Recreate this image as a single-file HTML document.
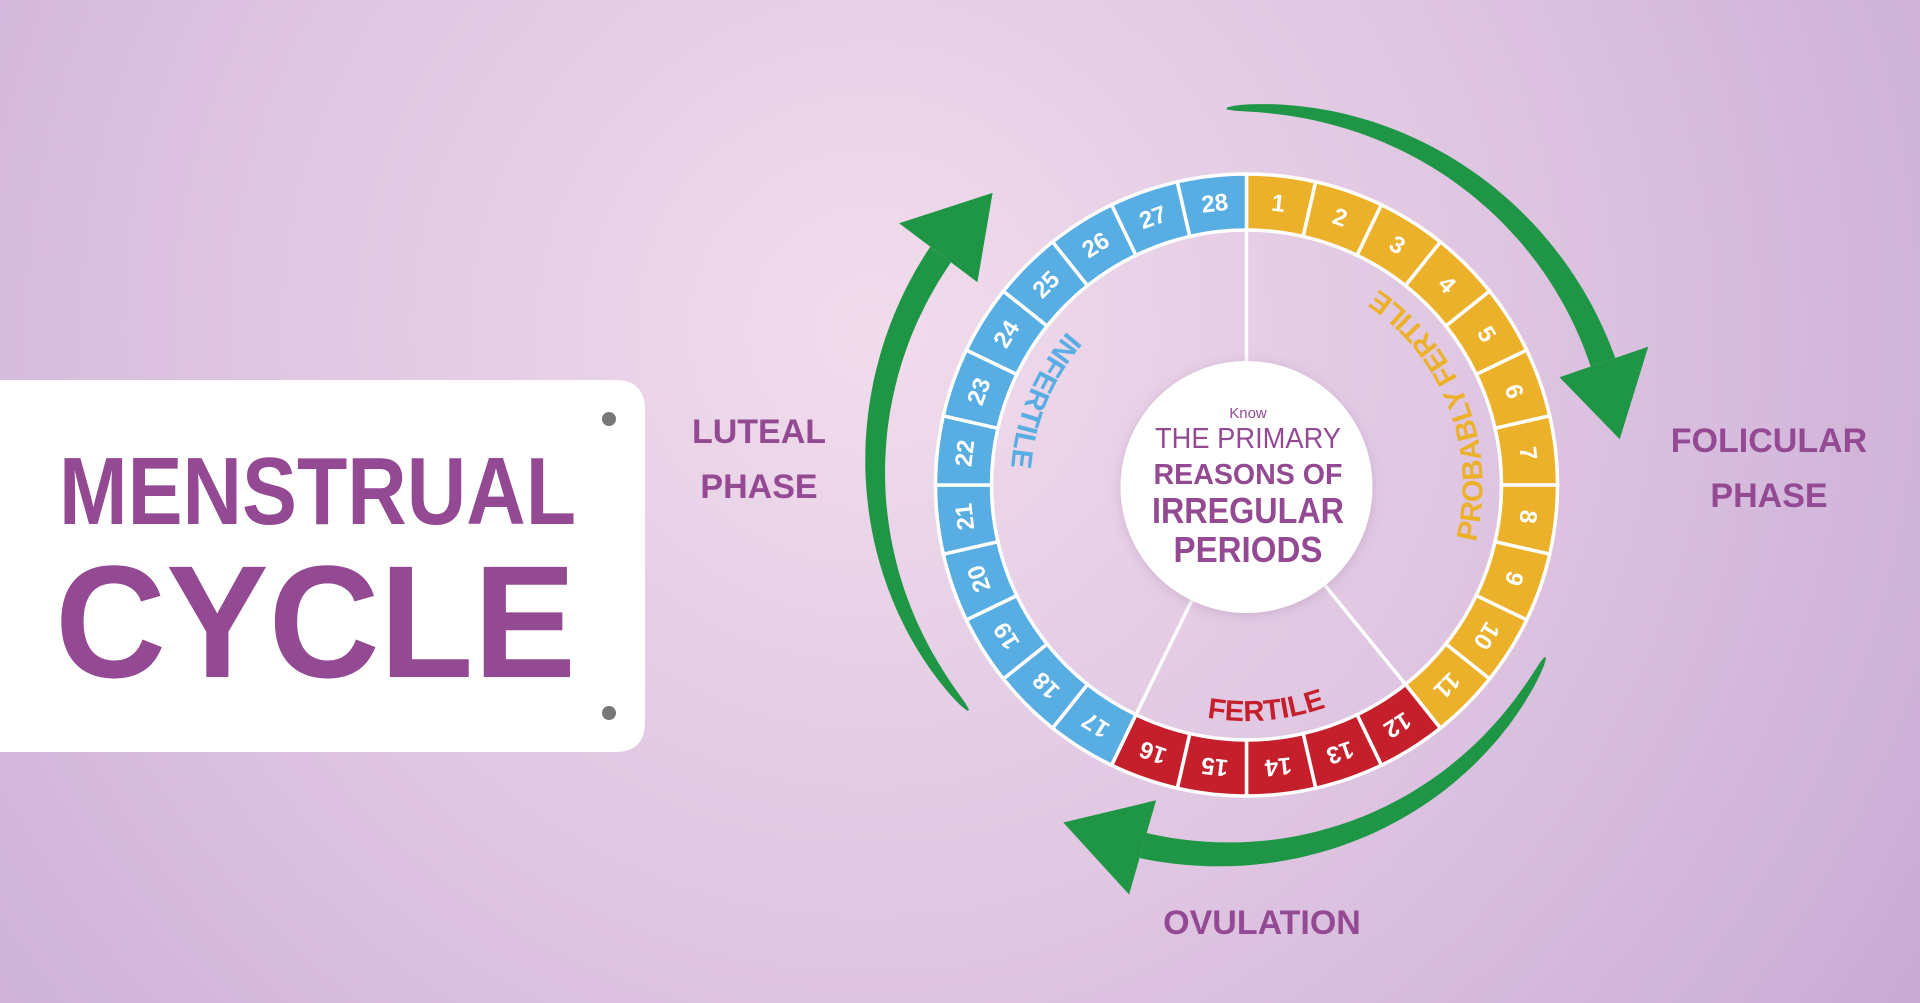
<!DOCTYPE html>
<html><head><meta charset="utf-8"><style>
html,body{margin:0;padding:0;width:1920px;height:1003px;overflow:hidden}
svg{display:block}
text{font-family:"Liberation Sans",sans-serif}
</style></head><body>
<svg id="s" width="1920" height="1003" viewBox="0 0 1920 1003" xmlns="http://www.w3.org/2000/svg">
<defs>
<radialGradient id="bg" cx="870" cy="330" r="1300" gradientUnits="userSpaceOnUse">
<stop offset="0" stop-color="#f1dcec"/><stop offset="0.55" stop-color="#dcc2e0"/><stop offset="1" stop-color="#c6a9d4"/>
</radialGradient>
<filter id="sh" x="-30%" y="-30%" width="160%" height="160%"><feDropShadow dx="0" dy="2" stdDeviation="6" flood-color="#8a5a90" flood-opacity="0.25"/></filter>
</defs>
<rect width="1920" height="1003" fill="url(#bg)"/>
<path d="M0 380 H615 Q645 380 645 410 V722 Q645 752 615 752 H0 Z" fill="#fff"/>
<circle cx="609" cy="419" r="7" fill="#777"/>
<circle cx="609" cy="713" r="7" fill="#777"/>
<text x="59" y="524" font-size="96" font-weight="bold" fill="#944a93" textLength="517" lengthAdjust="spacingAndGlyphs">MENSTRUAL</text>
<text x="55" y="677" font-size="160" font-weight="bold" fill="#944a93" textLength="521" lengthAdjust="spacingAndGlyphs">CYCLE</text>
<g font-size="34" font-weight="bold" fill="#944a93" text-anchor="middle">
<text x="759" y="443">LUTEAL</text><text x="759" y="498">PHASE</text>
<text x="1769" y="452">FOLICULAR</text><text x="1769" y="507">PHASE</text>
<text x="1262" y="934">OVULATION</text>
</g>
<g id="ring"></g>
<g id="arrows" fill="#1f9645"></g>
<circle cx="1246.5" cy="487" r="126" fill="#fff" filter="url(#sh)"/>
<g fill="#944a93" text-anchor="middle">
<text x="1248" y="418" font-size="15">Know</text>
<text x="1248" y="448" font-size="29" textLength="186" lengthAdjust="spacingAndGlyphs">THE PRIMARY</text>
<text x="1248" y="484" font-size="29" font-weight="bold" textLength="189" lengthAdjust="spacingAndGlyphs">REASONS OF</text>
<text x="1248" y="523" font-size="36" font-weight="bold" textLength="192" lengthAdjust="spacingAndGlyphs">IRREGULAR</text>
<text x="1248" y="562" font-size="36" font-weight="bold" textLength="149" lengthAdjust="spacingAndGlyphs">PERIODS</text>
</g>
</svg>
<script>
var NS="http://www.w3.org/2000/svg",cx=1246.5,cy=485;
function P(r,t){t*=Math.PI/180;return [cx+r*Math.sin(t),cy-r*Math.cos(t)];}
function f(p){return p[0].toFixed(1)+" "+p[1].toFixed(1);}
function el(tag,attrs,parent,txt){var e=document.createElementNS(NS,tag);for(var k in attrs)e.setAttribute(k,attrs[k]);if(txt)e.textContent=txt;parent.appendChild(e);return e;}
var ring=document.getElementById("ring"),R=311,r=255,s=360/28;
var defs=document.querySelector("defs");
for(var i=0;i<28;i++){
 var a0=i*s,a1=(i+1)*s,c=i<11?"#ecb12a":(i<16?"#c41f2b":"#58ade2");
 el("path",{d:"M"+f(P(R,a0))+" A"+R+" "+R+" 0 0 1 "+f(P(R,a1))+" L"+f(P(r,a1))+" A"+r+" "+r+" 0 0 0 "+f(P(r,a0))+" Z",fill:c,stroke:"#fff","stroke-width":3.5},ring);
 var m=(a0+a1)/2,p=P(283,m);
 el("text",{x:p[0],y:p[1],transform:"rotate("+m+" "+p[0]+" "+p[1]+")","text-anchor":"middle","dominant-baseline":"central","font-size":24,"font-weight":"bold",fill:"#fff"},ring,String(i+1));
}
// spokes
[0,11*s,16*s].forEach(function(a){el("line",{x1:P(126,a)[0],y1:P(126,a)[1]+2,x2:P(r,a)[0],y2:P(r,a)[1],stroke:"#fff","stroke-width":3.5},ring);});
// curved labels
function lab(id,ts,te,rr,txt,col){
 el("path",{id:id,d:"M"+f(P(rr,ts))+" A"+rr+" "+rr+" 0 0 0 "+f(P(rr,te)),fill:"none"},defs);
 var t=el("text",{"font-size":29,"font-weight":"bold",fill:col,"text-anchor":"middle"},ring);
 el("textPath",{href:"#"+id,startOffset:"50%"},t,txt);
}
lab("l1",135,3,236,"PROBABLY FERTILE","#ecb12a");
lab("l2",325,260,236,"INFERTILE","#58ade2");
lab("l3",205,145,236,"FERTILE","#c41f2b");
// arrows
var ag=document.getElementById("arrows");
function arrow(ta,tb,r0,r1,w0,w1,rin,rout,ttip,rtip){
 var N=60,o=[],n=[];
 for(var k=0;k<=N;k++){var t=k/N,th=ta+(tb-ta)*t,rr=r0+(r1-r0)*t,w=w0+(w1-w0)*Math.sqrt(t);
  o.push(f(P(rr+w/2,th)));n.unshift(f(P(rr-w/2,th)));}
 el("path",{d:"M"+o.join(" L")+" L"+n.join(" L")+" Z"},ag);
 el("path",{d:"M"+f(P(rin,tb))+" L"+f(P(rout,tb))+" L"+f(P(rtip,ttip))+" Z"},ag);
}
arrow(-3,71,377,377,2,26,331,425,83,376);
arrow(120,196,345,375,2,26,328,426,208.5,384);
arrow(231,307,358,383,2,26,337,435,319,387);
</script>
</body></html>
